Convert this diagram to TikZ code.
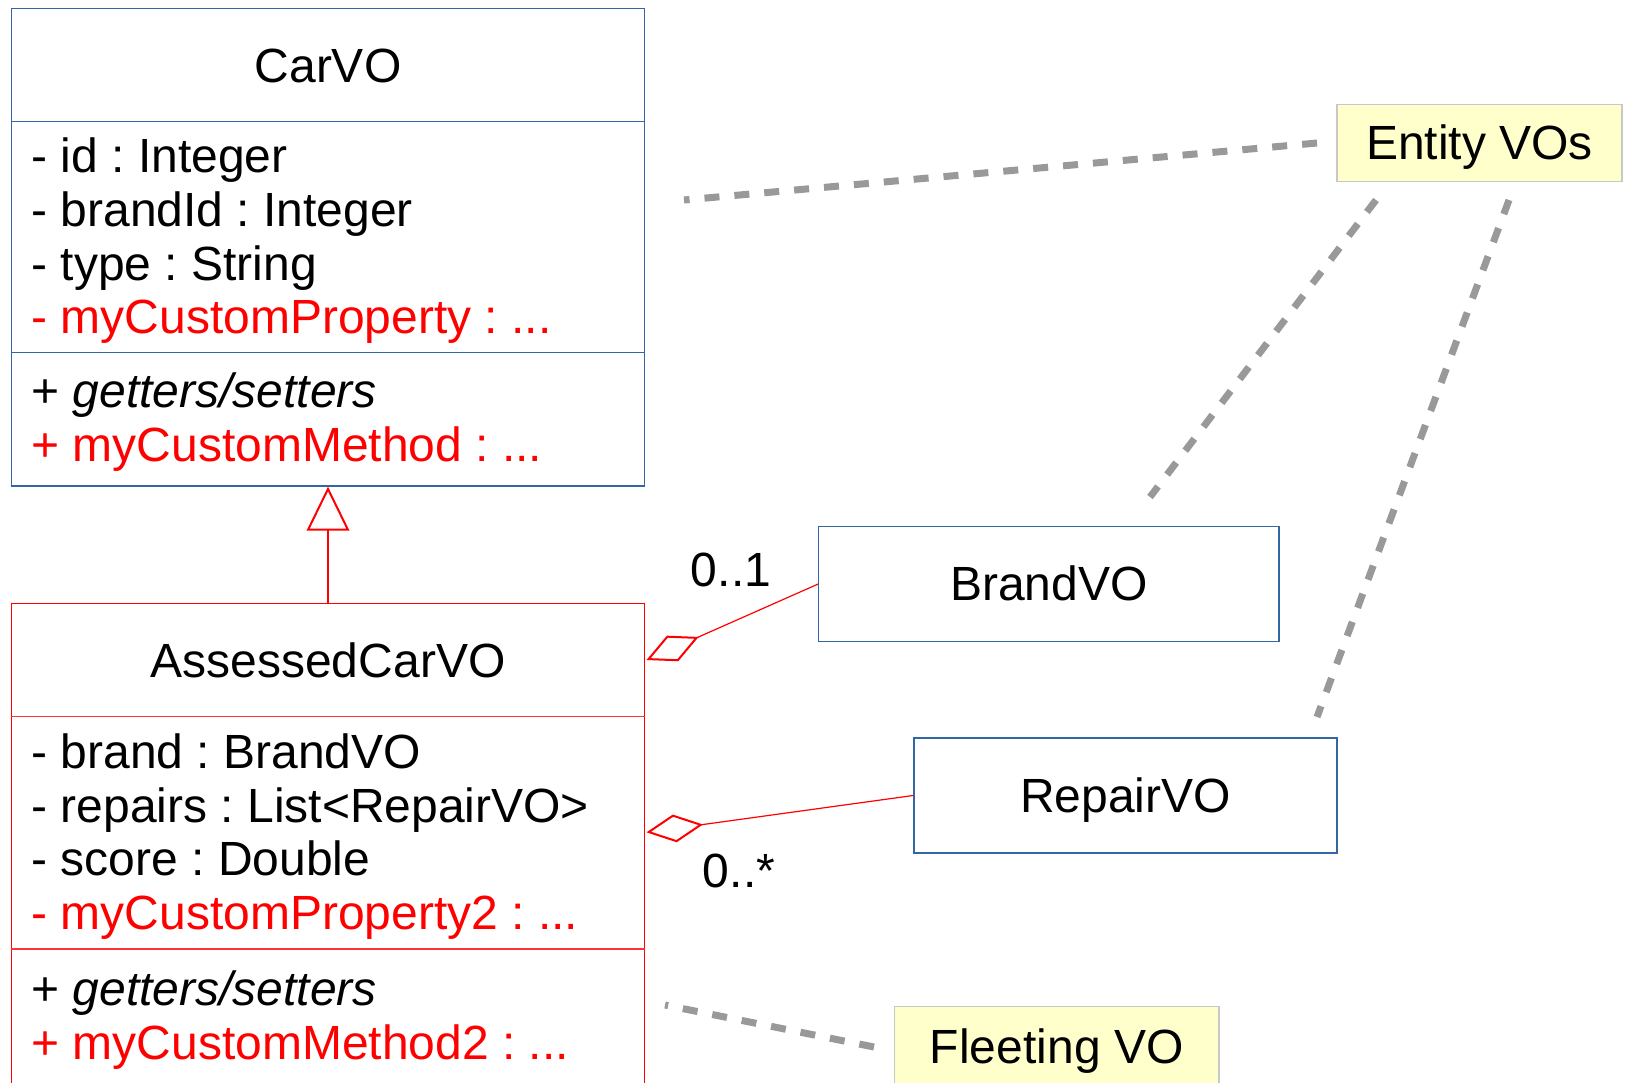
\documentclass[tikz,border=0pt]{standalone}
\usepackage{fontspec}
\setmainfont{Liberation Sans}
\usetikzlibrary{arrows.meta}
\definecolor{umlblue}{HTML}{3465A4}
\definecolor{notefill}{HTML}{FFFFCC}
\definecolor{noteline}{HTML}{C8C8C8}
\definecolor{hintgray}{HTML}{999999}
\frenchspacing
\begin{document}
\begin{tikzpicture}[x=0.5pt,y=-0.5pt,
  txt/.style={inner sep=0pt, font=\fontsize{24}{28.8}\selectfont},
  attr/.style={txt, anchor=base west},
  customattr/.style={attr, text=red},
  classtitle/.style={txt, anchor=base},
  boxbase/.style={inner sep=0pt, line width=0.65pt, text height=16.9pt, text depth=0pt,
    font=\fontsize{24}{28.8}\selectfont},
  bluebox/.style={boxbase, draw=umlblue},
  redbox/.style={boxbase, draw=red},
  notebox/.style={boxbase, draw=noteline, fill=notefill},
  bluesep/.style={draw=umlblue, line width=0.65pt},
  redsep/.style={draw=red!80, line width=0.65pt},
  hint/.style={draw=hintgray, line width=3.5pt, dash pattern=on 7.5pt off 7.5pt},
  aggregation/.style={draw=red, line width=0.6pt,
    -{Diamond[open, length=28.5pt, width=14pt, line width=1pt]}},
  inherit/.style={draw=red, line width=0.6pt,
    -{Triangle[open, length=22pt, width=21.25pt, line width=1pt]}},
  mult/.style={txt, anchor=base}
]
\path[use as bounding box] (0,0) rectangle (1625,1082);

% CarVO class
\node[bluebox, minimum width=316.6pt, minimum height=238.85pt] (carvo) at (328,247.15) {};
\draw[bluesep] (carvo.west |- 0,121.3) -- (carvo.east |- 0,121.3);
\draw[bluesep] (carvo.west |- 0,352.4) -- (carvo.east |- 0,352.4);
\node[classtitle] (carvoT) at (328,82.5) {CarVO};
\node[attr] (carvoA1) at (31,172.5) {- id : Integer};
\node[attr] (carvoA2) at (31,226.3) {- brandId : Integer};
\node[attr] (carvoA3) at (31,280.1) {- type : String};
\node[customattr] (carvoA4) at (31,333.9) {- myCustomProperty : ...};
\node[attr] (carvoM1) at (31,407.5) {+ \textit{getters/setters}};
\node[customattr] (carvoM2) at (31,461.5) {+ myCustomMethod : ...};

% AssessedCarVO class (runs past the lower edge)
\node[redbox, minimum width=316.6pt, minimum height=248.35pt] (acvo) at (328,851.65) {};
\draw[redsep] (acvo.west |- 0,716.7) -- (acvo.east |- 0,716.7);
\draw[redsep] (acvo.west |- 0,949) -- (acvo.east |- 0,949);
\node[classtitle] (acvoT) at (328,677.7) {AssessedCarVO};
\node[attr] (acvoA1) at (31,768.3) {- brand : BrandVO};
\node[attr] (acvoA2) at (31,822.1) {- repairs : List<RepairVO>};
\node[attr] (acvoA3) at (31,875.9) {- score : Double};
\node[customattr] (acvoA4) at (31,929.7) {- myCustomProperty2 : ...};
\node[attr] (acvoM1) at (31,1005) {+ \textit{getters/setters}};
\node[customattr] (acvoM2) at (31,1059.5) {+ myCustomMethod2 : ...};

% Referenced value objects
\node[bluebox, minimum width=230.05pt, minimum height=57.5pt] (brandvo) at (1048.85,584) {BrandVO};
\node[bluebox, minimum width=211.45pt, minimum height=57.55pt] (repairvo) at (1125.55,795.45) {RepairVO};

% Notes
\node[notebox, minimum width=142.5pt, minimum height=38.35pt] (entity) at (1479.5,143.05) {Entity VOs};
\node[notebox, minimum width=162.3pt, minimum height=39.85pt] (fleeting) at (1056.7,1046.15) {Fleeting VO};

% Inheritance
\draw[inherit] (acvo.north) -- (carvo.south);

% Aggregations with multiplicities
\coordinate (brandEnd) at (646.5,660);
\coordinate (repairEnd) at (646.5,832.3);
\draw[aggregation] (brandvo.west) -- (brandEnd);
\draw[aggregation] (repairvo.west) -- (repairEnd);
\node[mult] (multBrand) at (731,586) {0..1};
\node[mult] (multRepair) at (739,887) {0..*};

% Note hints
\coordinate (h1a) at (1317,143);
\coordinate (h1b) at (684,200);
\coordinate (h2a) at (1376,200);
\coordinate (h2b) at (1150,497);
\coordinate (h3a) at (1509,200);
\coordinate (h3b) at (1317,717);
\coordinate (h4a) at (874,1047);
\coordinate (h4b) at (665,1005);
\draw[hint] (h1a) -- (h1b);
\draw[hint] (h2a) -- (h2b);
\draw[hint] (h3a) -- (h3b);
\draw[hint] (h4a) -- (h4b);
\end{tikzpicture}
\end{document}
